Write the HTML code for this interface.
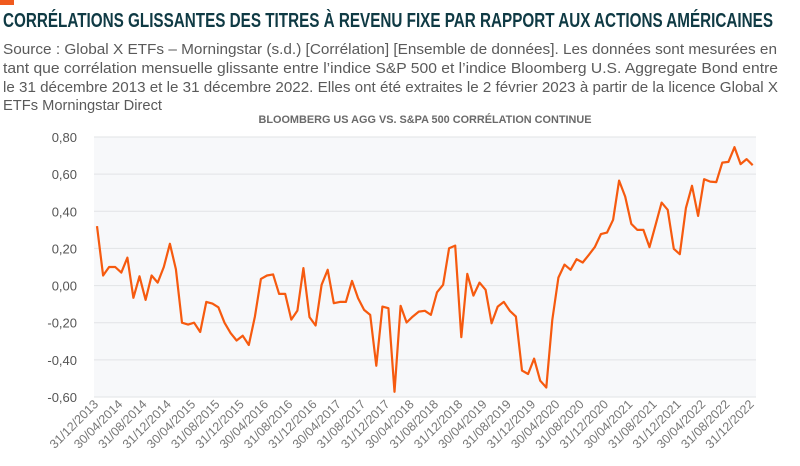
<!DOCTYPE html>
<html><head><meta charset="utf-8">
<style>
html,body{margin:0;padding:0;background:#fff;}
svg{display:block;font-family:"Liberation Sans",sans-serif;}
</style></head>
<body>
<svg id="chart" width="800" height="466" viewBox="0 0 800 466" xmlns="http://www.w3.org/2000/svg">
  <rect x="0" y="0" width="14" height="5" fill="#f05a1e"/>
  <text x="3" y="27" font-size="20" font-weight="bold" fill="#0f3a44" textLength="770" lengthAdjust="spacingAndGlyphs">CORRÉLATIONS GLISSANTES DES TITRES À REVENU FIXE PAR RAPPORT AUX ACTIONS AMÉRICAINES</text>
  <g font-size="15" fill="#5a5a5a">
    <text x="3" y="54" textLength="774" lengthAdjust="spacingAndGlyphs">Source : Global X ETFs – Morningstar (s.d.) [Corrélation] [Ensemble de données]. Les données sont mesurées en</text>
    <text x="3" y="73" textLength="775" lengthAdjust="spacingAndGlyphs">tant que corrélation mensuelle glissante entre l’indice S&amp;P 500 et l’indice Bloomberg U.S. Aggregate Bond entre</text>
    <text x="3" y="92" textLength="775" lengthAdjust="spacingAndGlyphs">le 31 décembre 2013 et le 31 décembre 2022. Elles ont été extraites le 2 février 2023 à partir de la licence Global X</text>
    <text x="3" y="110" textLength="159" lengthAdjust="spacingAndGlyphs">ETFs Morningstar Direct</text>
  </g>
  <text x="425" y="123" font-size="11" font-weight="bold" fill="#6a6a6a" text-anchor="middle" textLength="333" lengthAdjust="spacingAndGlyphs">BLOOMBERG US AGG VS. S&amp;PA 500 CORRÉLATION CONTINUE</text>
  <rect x="94" y="137" width="662" height="260" fill="#f7f8fa"/>
  <g id="grid"></g>
  <g id="yticks"></g>
  <g id="xticks"></g>
  <g id="series"></g>
</svg>
<script>
const values = [0.32,0.054,0.10,0.10,0.07,0.15,-0.066,0.05,-0.077,0.054,0.016,0.10,0.225,0.088,-0.20,-0.21,-0.20,-0.25,-0.088,-0.097,-0.117,-0.20,-0.256,-0.296,-0.27,-0.32,-0.167,0.036,0.054,0.06,-0.045,-0.045,-0.183,-0.135,0.094,-0.17,-0.215,0.004,0.085,-0.095,-0.088,-0.088,0.025,-0.068,-0.131,-0.158,-0.432,-0.113,-0.122,-0.572,-0.109,-0.199,-0.167,-0.14,-0.136,-0.158,-0.036,0.004,0.201,0.215,-0.278,0.063,-0.054,0.016,-0.023,-0.203,-0.113,-0.088,-0.136,-0.167,-0.458,-0.476,-0.393,-0.512,-0.549,-0.185,0.043,0.113,0.085,0.142,0.124,0.165,0.207,0.277,0.285,0.354,0.565,0.479,0.332,0.30,0.30,0.207,0.327,0.447,0.408,0.198,0.169,0.417,0.537,0.375,0.573,0.56,0.557,0.662,0.666,0.745,0.654,0.681,0.648];
const yTicks = [0.8,0.6,0.4,0.2,0,-0.2,-0.4,-0.6];
const yTickLabels = ["0,80","0,60","0,40","0,20","0,00","-0,20","-0,40","-0,60"];
const xTickLabels = ["31/12/2013","30/04/2014","31/08/2014","31/12/2014","30/04/2015","31/08/2015","31/12/2015","30/04/2016","31/08/2016","31/12/2016","30/04/2017","31/08/2017","31/12/2017","30/04/2018","31/08/2018","31/12/2018","30/04/2019","31/08/2019","31/12/2019","30/04/2020","31/08/2020","31/12/2020","30/04/2021","31/08/2021","31/12/2021","30/04/2022","31/08/2022","31/12/2022"];
const xTickStep = 4;

const NS = "http://www.w3.org/2000/svg";
const x0 = 97, x1 = 752.7, yMin = -0.6, yMax = 0.8, py0 = 397, py1 = 137;
function xs(i){ return x0 + (x1 - x0) * i / (values.length - 1); }
function ys(v){ return py0 - (v - yMin) / (yMax - yMin) * (py0 - py1); }

const grid = document.getElementById('grid');
const yt = document.getElementById('yticks');
yTicks.forEach((v, k) => {
  const l = document.createElementNS(NS, 'line');
  
  
  l.setAttribute('x1', 94); l.setAttribute('x2', 756);
  l.setAttribute('y1', ys(v)); l.setAttribute('y2', ys(v));
  l.setAttribute('stroke', '#e2e3e6'); l.setAttribute('stroke-width', '1');
  grid.appendChild(l);
  const t = document.createElementNS(NS, 'text');
  
  
  t.setAttribute('x', 77); t.setAttribute('y', ys(v) + 5);
  t.setAttribute('text-anchor', 'end'); t.setAttribute('font-size', '13');
  t.setAttribute('fill', '#555');
  t.textContent = yTickLabels[k];
  yt.appendChild(t);
});

const xt = document.getElementById('xticks');
xTickLabels.forEach((lab, k) => {
  const i = k * xTickStep;
  const x = xs(i) + 2, y = 405;
  const t = document.createElementNS(NS, 'text');
  
  
  t.setAttribute('x', x); t.setAttribute('y', y);
  t.setAttribute('text-anchor', 'end'); t.setAttribute('font-size', '12.5');
  t.setAttribute('fill', '#777');
  t.setAttribute('transform', `rotate(-45 ${x} ${y})`);
  t.textContent = lab;
  xt.appendChild(t);
});

const pts = values.map((v, i) => xs(i).toFixed(1) + ',' + ys(v).toFixed(1)).join(' ');
const pl = document.createElementNS(NS, 'polyline');


pl.setAttribute('points', pts);
pl.setAttribute('fill', 'none'); pl.setAttribute('stroke', '#f65a0f');
pl.setAttribute('stroke-width', '2.2'); pl.setAttribute('stroke-linejoin', 'round');
document.getElementById('series').appendChild(pl);
</script>
</body></html>
